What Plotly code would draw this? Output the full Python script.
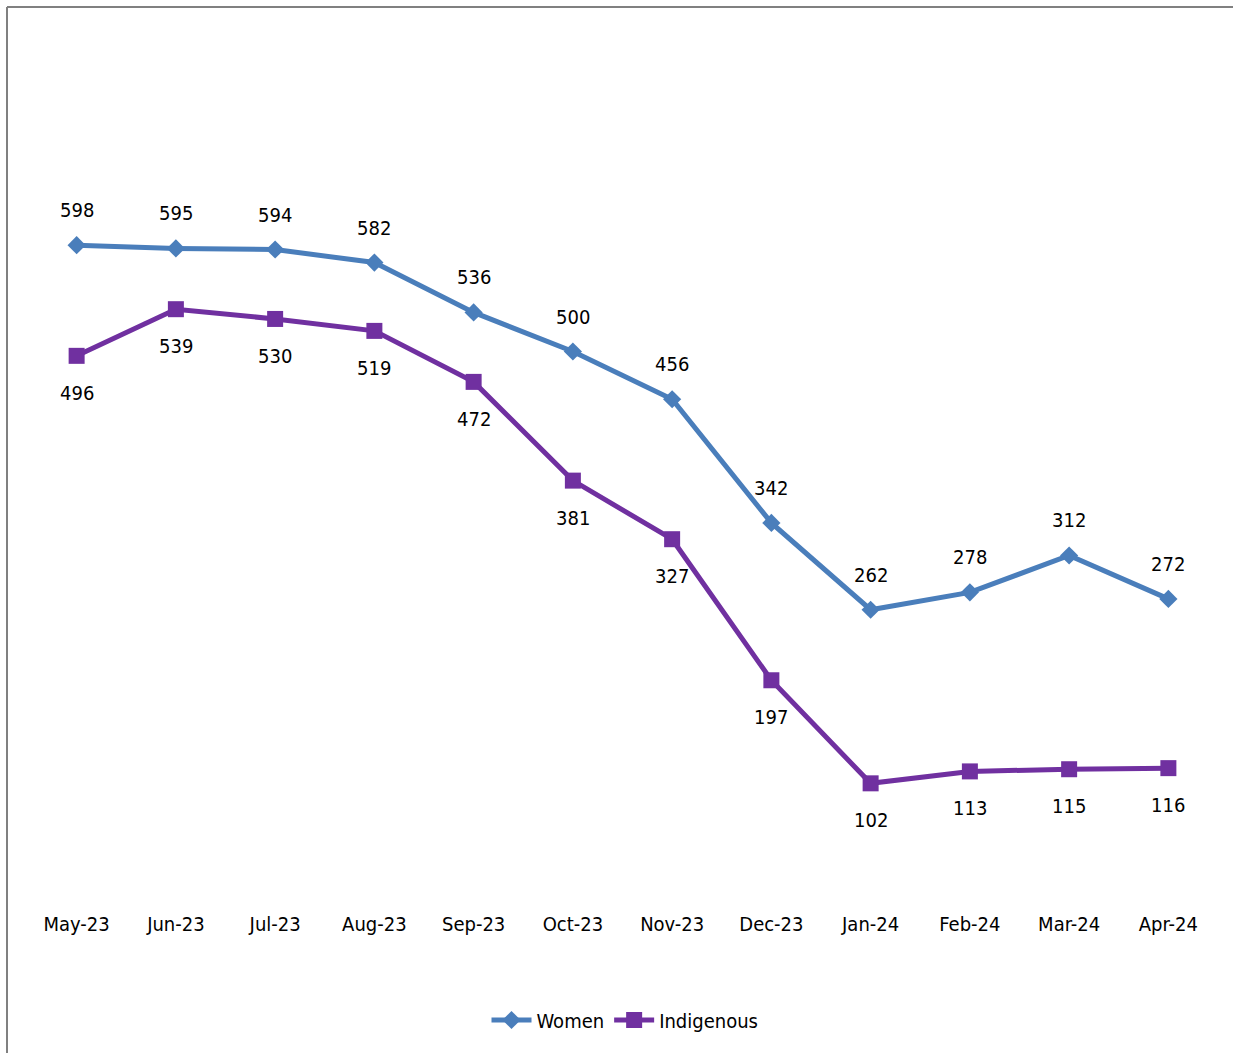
import plotly.graph_objects as go

months = ["May-23", "Jun-23", "Jul-23", "Aug-23", "Sep-23", "Oct-23",
          "Nov-23", "Dec-23", "Jan-24", "Feb-24", "Mar-24", "Apr-24"]
women = [598, 595, 594, 582, 536, 500, 456, 342, 262, 278, 312, 272]
indigenous = [496, 539, 530, 519, 472, 381, 327, 197, 102, 113, 115, 116]

FONT = "Liberation Sans Narrow, Arial Narrow, DejaVu Sans Condensed, Liberation Sans, sans-serif"
BLUE = "#4A7EBB"
PURPLE = "#7030A0"
FS = 20

fig = go.Figure()
fig.add_trace(go.Scatter(x=months, y=women, name="Women", mode="lines+markers",
                         line=dict(color=BLUE, width=5),
                         marker=dict(symbol="diamond", size=14, color=BLUE)))
fig.add_trace(go.Scatter(x=months, y=indigenous, name="Indigenous", mode="lines+markers",
                         line=dict(color=PURPLE, width=5),
                         marker=dict(symbol="square", size=16, color=PURPLE)))

annotations = []
for m, v in zip(months, women):
    annotations.append(dict(x=m, y=v, text=str(v), showarrow=False, yshift=35,
                            font=dict(family=FONT, size=FS, color="#000000")))
for m, v in zip(months, indigenous):
    annotations.append(dict(x=m, y=v, text=str(v), showarrow=False, yshift=-37,
                            font=dict(family=FONT, size=FS, color="#000000")))

W, H = 1233, 1053
l, r, t, b = 27, 15, 26, 159
pw, ph = W - l - r, H - t - b
x0 = (7 - l) / pw
x1 = (1233 - l) / pw
y1 = (H - b - 7) / ph
y0 = (H - b - 1053) / ph

fig.update_layout(
    width=W, height=H,
    margin=dict(l=l, r=r, t=t, b=b),
    paper_bgcolor="white", plot_bgcolor="white",
    font=dict(family=FONT, size=FS, color="#000000"),
    xaxis=dict(range=[-0.5, 11.5], showgrid=False, zeroline=False, showline=False,
               ticks="", ticklabelstandoff=16,
               tickfont=dict(family=FONT, size=FS, color="#000000")),
    yaxis=dict(range=[0, 800], visible=False, showgrid=False, zeroline=False),
    showlegend=True,
    legend=dict(orientation="h", x=(625 - l) / pw, xanchor="center",
                y=(H - b - 1020) / ph, yanchor="middle",
                font=dict(family=FONT, size=FS, color="#000000"),
                itemwidth=40, traceorder="normal"),
    annotations=annotations,
    shapes=[
        dict(type="line", xref="paper", yref="paper", x0=x0, x1=x1, y0=y1, y1=y1,
             line=dict(color="#808080", width=2), layer="below"),
        dict(type="line", xref="paper", yref="paper", x0=x0, x1=x0, y0=y0, y1=y1,
             line=dict(color="#808080", width=2), layer="below"),
    ],
)

fig.write_html("out.html", config={"displayModeBar": False},
               post_script="document.body.style.margin='0';")
